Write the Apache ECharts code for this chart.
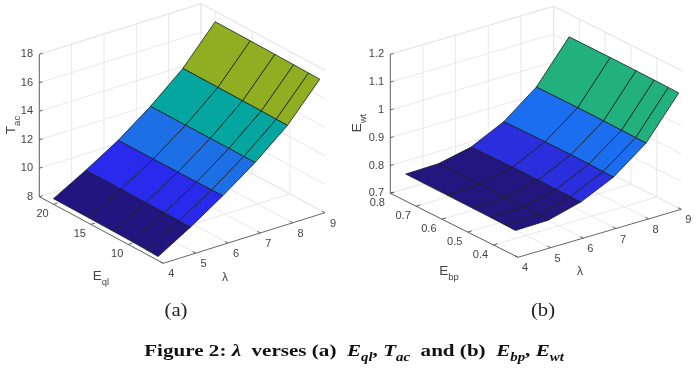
<!DOCTYPE html>
<html>
<head>
<meta charset="utf-8">
<style>html,body{margin:0;padding:0;background:#fff}#c{width:696px;height:371px}</style>
<script src="https://cdn.jsdelivr.net/npm/echarts@6/dist/echarts.min.js"></script>
</head>
<body>
<div id="c"></div>
<script>
// ---------- data ----------
const lambdaValues = [4, 5, 6, 7, 8, 9];
const lambdaTicks = [4, 5, 6, 7, 8, 9];

const eqlValues = [20, 15.3, 12, 9.5, 7.5, 6];
const eqlTicks = [10, 15, 20];
const tacTicks = [8, 10, 12, 14, 16, 18];
const tacE20 = [8.40, 9.68, 11.07, 12.75, 14.70, 17.27];
const tacE15 = [8.38, 9.67, 11.08, 12.75, 14.69, 17.25];
const tacE12 = [8.36, 9.66, 11.09, 12.75, 14.68, 17.23];
const tacE9 = [8.34, 9.65, 11.10, 12.75, 14.67, 17.21];
const tacE7 = [8.31, 9.64, 11.11, 12.75, 14.65, 17.19];
const tacE6 = [8.28, 9.63, 11.12, 12.75, 14.64, 17.18];
const tacBandColors = ['#23157f', '#2a2aec', '#1d6fe6', '#05a6a0', '#8fae22'];

const ebpValues = [0.74, 0.58, 0.48, 0.41, 0.355, 0.315];
const ebpTicks = [0.4, 0.5, 0.6, 0.7, 0.8];
const ewtTicks = [0.7, 0.8, 0.9, 1, 1.1, 1.2];
const ewtE74 = [0.797, 0.800, 0.825, 0.882, 0.972, 1.118];
const ewtE58 = [0.796, 0.800, 0.827, 0.884, 0.972, 1.118];
const ewtE48 = [0.795, 0.799, 0.827, 0.884, 0.971, 1.117];
const ewtE41 = [0.794, 0.798, 0.826, 0.883, 0.970, 1.116];
const ewtE35 = [0.793, 0.796, 0.826, 0.881, 0.969, 1.115];
const ewtE31 = [0.792, 0.794, 0.825, 0.880, 0.968, 1.114];
const ewtBandColors = ['#24157f', '#24157f', '#2b2edd', '#1c6ef0', '#23b07f'];

// ---------- view geometry (pixels of the projected box corners) ----------
const viewA = {
  front: [163.3, 263.3], right: [325, 212.7], left: [39.3, 196.7], rise: 142.4,
  lamRange: [4, 9], eRange: [5.3, 21.9], zRange: [8, 18],
  eVals: eqlValues, zRows: [tacE20, tacE15, tacE12, tacE9, tacE7, tacE6], colors: tacBandColors,
  eTicks: eqlTicks, zTicks: tacTicks,
  eOff: [-11, 10], lamOff: [8, 11], zLabelX: 33,
  eName: ['E', 'ql', 101, 276], zName: ['T', 'ac', 11, 125], lamName: [225, 278]
};
const viewB = {
  front: [518, 257.3], right: [681.3, 209.3], left: [390.3, 193.3], rise: 139,
  lamRange: [4, 9], eRange: [0.305, 0.8], zRange: [0.7, 1.2],
  eVals: ebpValues, zRows: [ewtE74, ewtE58, ewtE48, ewtE41, ewtE35, ewtE31], colors: ewtBandColors,
  eTicks: ebpTicks, zTicks: ewtTicks,
  eOff: [-13, 10], lamOff: [7, 11], zLabelX: 384,
  eName: ['E', 'bp', 449, 271], zName: ['E', 'wt', 357, 123], lamName: [580, 272]
};

const map = echarts.number.linearMap;
function projector(v) {
  return function (lam, e, z) {
    const a = map(lam, v.lamRange, [0, 1]);
    const b = map(e, v.eRange, [0, 1]);      // 0 at front corner, 1 at left corner
    const c = map(z, v.zRange, [0, 1]);
    return [
      v.front[0] + a * (v.right[0] - v.front[0]) + b * (v.left[0] - v.front[0]),
      v.front[1] + a * (v.right[1] - v.front[1]) + b * (v.left[1] - v.front[1]) - c * v.rise
    ];
  };
}

const TXT = '#444';
const SANS = '"Liberation Sans", Arial, sans-serif';

function panelSeries(v) {
  const P = projector(v);
  const [lam0, lam1] = v.lamRange, [e0, e1] = v.eRange, [z0, z1] = v.zRange;
  const grid = [], axes = [], texts = [];
  // walls and floor
  v.zTicks.forEach(z => {
    grid.push([P(lam0, e1, z), P(lam1, e1, z)], [P(lam1, e1, z), P(lam1, e0, z)]);
    axes.push([P(lam0, e1, z), shift(P(lam0, e1, z), P(lam1, e1, z), 0.02)]);
    texts.push({ text: String(z), x: v.zLabelX, y: P(lam0, e1, z)[1], align: 'right', vAlign: 'middle' });
  });
  lambdaTicks.forEach(l => {
    grid.push([P(l, e1, z0), P(l, e1, z1)], [P(l, e0, z0), P(l, e1, z0)]);
    axes.push([P(l, e0, z0), shift(P(l, e0, z0), P(l, e1, z0), 0.025)]);
    const p = P(l, e0, z0);
    texts.push({ text: String(l), x: p[0] + v.lamOff[0], y: p[1] + v.lamOff[1], align: 'center', vAlign: 'middle' });
  });
  v.eTicks.forEach(e => {
    grid.push([P(lam0, e, z0), P(lam1, e, z0)], [P(lam1, e, z0), P(lam1, e, z1)]);
    axes.push([P(lam0, e, z0), shift(P(lam0, e, z0), P(lam1, e, z0), 0.025)]);
    const p = P(lam0, e, z0);
    texts.push({ text: String(e), x: p[0] + v.eOff[0], y: p[1] + v.eOff[1], align: 'center', vAlign: 'middle' });
  });
  grid.push([P(lam1, e1, z0), P(lam1, e1, z1)], [P(lam0, e1, z1), P(lam1, e1, z1)], [P(lam1, e1, z1), P(lam1, e0, z1)]);
  axes.push([P(lam0, e1, z0), P(lam0, e1, z1)], [P(lam0, e1, z0), P(lam0, e0, z0)], [P(lam0, e0, z0), P(lam1, e0, z0)]);

  const faces = [];
  for (let j = lambdaValues.length - 2; j >= 0; j--) {
    for (let i = 0; i < v.eVals.length - 1; i++) {
      faces.push({
        color: v.colors[j],
        pts: [
          P(lambdaValues[j], v.eVals[i], v.zRows[i][j]),
          P(lambdaValues[j + 1], v.eVals[i], v.zRows[i][j + 1]),
          P(lambdaValues[j + 1], v.eVals[i + 1], v.zRows[i + 1][j + 1]),
          P(lambdaValues[j], v.eVals[i + 1], v.zRows[i + 1][j])
        ]
      });
    }
  }
  const base = { type: 'custom', coordinateSystem: 'none', silent: true, animation: false, clip: false };
  const lineSeries = (list, color, width, z) => Object.assign({}, base, {
    z,
    data: list.map((_, i) => [i]),
    renderItem: params => {
      const s = list[params.dataIndex];
      return { type: 'line', shape: { x1: s[0][0], y1: s[0][1], x2: s[1][0], y2: s[1][1] }, style: { stroke: color, lineWidth: width } };
    }
  });
  const nameRich = {
    m: { fontFamily: SANS, fontSize: 13.5, fill: TXT, color: TXT, lineHeight: 22, verticalAlign: 'middle' },
    s: { fontFamily: SANS, fontSize: 9.5, fill: TXT, color: TXT, lineHeight: 10, verticalAlign: 'bottom' }
  };
  return [
    lineSeries(grid, '#e5e5e5', 0.9, 1),
    lineSeries(axes, '#555', 0.9, 2),
    Object.assign({}, base, {
      z: 3,
      data: faces.map((_, i) => [i]),
      renderItem: params => {
        const f = faces[params.dataIndex];
        return { type: 'polygon', shape: { points: f.pts }, style: { fill: f.color, stroke: '#16201e', lineWidth: 0.8 } };
      }
    }),
    Object.assign({}, base, {
      z: 4,
      data: texts.map((_, i) => [i]),
      renderItem: params => {
        const t = texts[params.dataIndex];
        return { type: 'text', style: { text: t.text, x: t.x, y: t.y, align: t.align, verticalAlign: t.vAlign, fill: TXT, font: '11px ' + SANS } };
      }
    }),
    Object.assign({}, base, {
      z: 4,
      data: [[0], [1], [2]],
      renderItem: params => {
        if (params.dataIndex === 0) {
          return { type: 'text', x: v.eName[2], y: v.eName[3], style: { text: '{m|' + v.eName[0] + '}{s|' + v.eName[1] + '}', rich: nameRich, align: 'center', verticalAlign: 'middle' } };
        }
        if (params.dataIndex === 1) {
          return { type: 'text', x: v.zName[2], y: v.zName[3], rotation: Math.PI / 2, style: { text: '{m|' + v.zName[0] + '}{s|' + v.zName[1] + '}', rich: nameRich, align: 'center', verticalAlign: 'middle' } };
        }
        return { type: 'text', style: { text: 'λ', x: v.lamName[0], y: v.lamName[1], align: 'center', verticalAlign: 'middle', fill: TXT, font: '12px ' + SANS } };
      }
    })
  ];
}
function shift(a, b, f) { return [a[0] + (b[0] - a[0]) * f, a[1] + (b[1] - a[1]) * f]; }

const SERIF = '"Liberation Serif", "Times New Roman", serif';
const B = { fontFamily: SERIF, fontSize: 17, fontWeight: 'bold', fill: '#111', lineHeight: 24, verticalAlign: 'middle' };
const I = Object.assign({}, B, { fontStyle: 'italic' });
const S = { fontFamily: SERIF, fontSize: 12, fontWeight: 'bold', fontStyle: 'italic', fill: '#111', lineHeight: 13, verticalAlign: 'bottom' };

const chart = echarts.init(document.getElementById('c'), null, { renderer: 'canvas' });
chart.setOption({
  backgroundColor: '#fff',
  animation: false,
  graphic: [
    { type: 'text', x: 176, y: 311, scaleX: 1.15, silent: true, style: { text: '(a)', align: 'center', verticalAlign: 'middle', fill: '#222', font: '18px ' + SERIF } },
    { type: 'text', x: 543, y: 311, scaleX: 1.15, silent: true, style: { text: '(b)', align: 'center', verticalAlign: 'middle', fill: '#222', font: '18px ' + SERIF } },
    {
      type: 'text', x: 354, y: 352, scaleX: 1.24, silent: true,
      style: {
        text: '{b|Figure 2: }{i|λ}{b|  verses (a)  }{i|E}{s|ql}{b|, }{i|T}{s|ac}{b|  and (b)  }{i|E}{s|bp}{b|, }{i|E}{s|wt}',
        align: 'center', verticalAlign: 'middle',
        rich: { b: B, i: I, s: S }
      }
    }
  ],
  series: panelSeries(viewA).concat(panelSeries(viewB))
});
</script>
</body>
</html>
